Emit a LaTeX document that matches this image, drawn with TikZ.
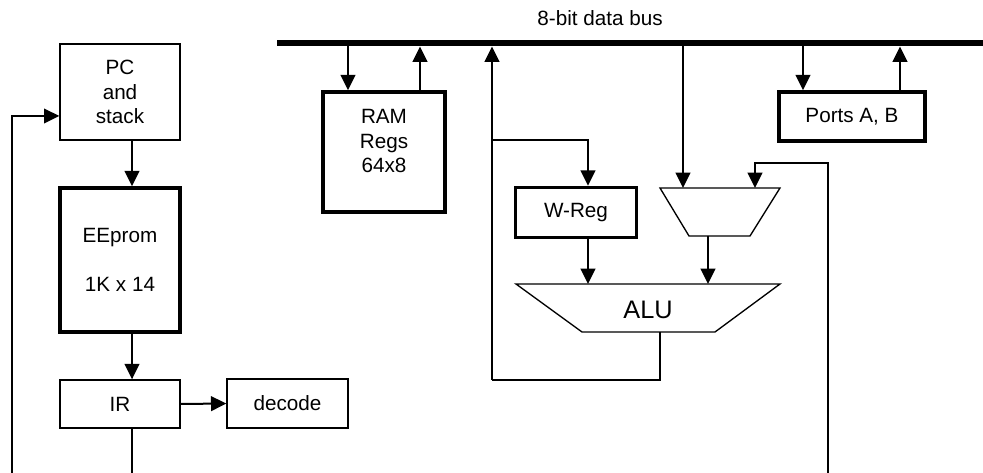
\documentclass[tikz,border=0pt]{standalone}
\usepackage{fontspec}
\setmainfont{Liberation Sans}
\usetikzlibrary{arrows.meta}
\tikzset{
  blk/.style={draw, line width=1pt, minimum width=90pt, inner sep=0pt, align=center, font=\fontsize{15.5}{18.4}\selectfont},
  thickblk/.style={blk, line width=2.6pt},
  txt/.style={align=center, inner sep=0pt, font=\fontsize{15.5}{18.4}\selectfont},
  trap/.style={draw, line width=1pt, line join=miter},
  flow/.style={line width=1.5pt, -{Triangle[length=11.5pt,width=11pt]}},
  wire/.style={line width=1.5pt},
  bus/.style={line width=4.5pt},
}

\begin{document}
\begin{tikzpicture}[x=0.75pt, y=-0.75pt]
			%%%%% START %%%%%
			\useasboundingbox (0,0) rectangle (983,473);
			
			% program side
			\node[blk, minimum height=72pt] (pc) at (120,92) {PC\\and\\stack};
			\node[thickblk, minimum height=108pt] (eeprom) at (120,260) {EEprom\\[18.4pt]1K x 14};
			\node[blk, minimum height=36pt] (ir) at (120,404) {IR};
			\node[blk, minimum width=90.75pt, minimum height=36.75pt] (decode) at (287.5,403.5) {decode};
			\coordinate (irend) at (132,473);
			\coordinate (fbstart) at (12,473);
			
			\draw[flow] ([xshift=9pt]pc.south) -- ([xshift=9pt]eeprom.north);
			\draw[flow] ([xshift=9pt]eeprom.south) -- ([xshift=9pt]ir.north);
			\draw[flow] (ir.east) -- (decode.west);
			\draw[wire] ([xshift=9pt]ir.south) -- (irend);
			\draw[flow] (fbstart) |- ([yshift=-18pt]pc.west);
			
			% data side
			\coordinate (busL) at (277,43.5);
			\coordinate (busR) at (983,43.5);
			\node[txt] (buslbl) at (600,18) {8-bit data bus};
			
			\node[thickblk, minimum width=91.5pt, minimum height=90pt] (ram) at (384,152) {};
			\node[txt] (ramtxt) at (384,141) {RAM\\Regs\\64x8};
			\node[thickblk, minimum width=109.5pt, minimum height=36.75pt] (ports) at (852,116.5) {Ports A, B};
			\node[thickblk, minimum width=90.75pt, minimum height=37.5pt] (wreg) at (576,212.5) {W-Reg};
			
			% mux and alu
			\draw[trap] (660,188) -- (780,188) -- (750,236) -- (689,236) -- cycle;
			\draw[trap] (516,284) -- (780,284) -- (715,332) -- (582,332) -- cycle;
			\node[txt, font=\fontsize{19}{22}\selectfont] (alu) at (648,310) {ALU};
			\coordinate (muxinA) at (683,188);
			\coordinate (muxinB) at (755,188);
			\coordinate (muxout) at (708,236);
			\coordinate (aluinA) at (588,284);
			\coordinate (aluinB) at (708,284);
			\coordinate (aluout) at (660,332);
			
			\coordinate (loopc) at (492,380);
			\coordinate (tap) at (492,140);
			\coordinate (rin) at (828,473);
			\coordinate (rbend) at (828,163);
			
			\draw[flow] ([xshift=-27pt]ram.north |- busL) -- ([xshift=-27pt]ram.north);
			\draw[flow, shorten >=2.25pt] ([xshift=27pt]ram.north) -- ([xshift=27pt]ram.north |- busL);
			\draw[flow] ([xshift=-36.75pt]ports.north |- busL) -- ([xshift=-36.75pt]ports.north);
			\draw[flow, shorten >=2.25pt] ([xshift=36pt]ports.north) -- ([xshift=36pt]ports.north |- busL);
			
			\draw[wire] (aluout) |- (loopc);
			\draw[flow, shorten >=2.25pt] (loopc) -- (loopc |- busL);
			\draw[flow] (tap) -| ([xshift=9pt]wreg.north);
			\draw[flow] ([xshift=9pt]wreg.south) -- (aluinA);
			
			\draw[flow] (muxinA |- busL) -- (muxinA);
			\draw[flow] (rin) -- (rbend) -| (muxinB);
			\draw[flow] (muxout) -- (aluinB);
			
			\draw[bus] (busL) -- (busR);
			%%%%% END %%%%%
\end{tikzpicture}
\end{document}
